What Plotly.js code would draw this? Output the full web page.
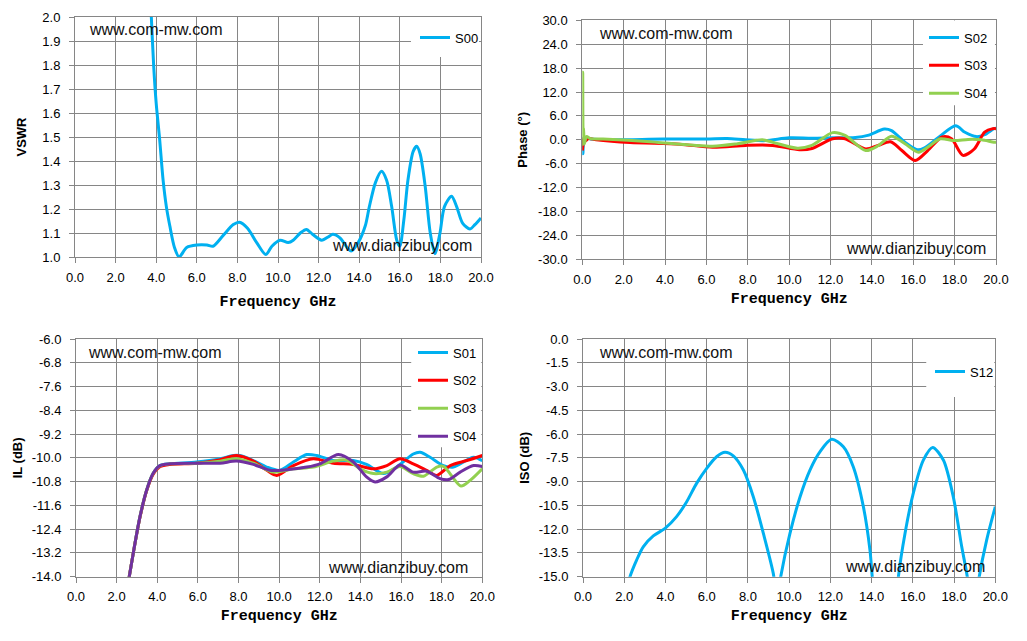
<!DOCTYPE html>
<html>
<head>
<meta charset="utf-8">
<script src="https://cdn.plot.ly/plotly-3.0.1.min.js"></script>
<style>
  body { margin: 0; background: #fff; }
  #chart { width: 1027px; height: 641px; }
</style>
</head>
<body>
<div id="chart"></div>
<script>
// tick values
const freqTicks = [0, 2, 4, 6, 8, 10, 12, 14, 16, 18, 20];
const vswrTicks = [1.0, 1.1, 1.2, 1.3, 1.4, 1.5, 1.6, 1.7, 1.8, 1.9, 2.0];
const phaseTicks = [-30, -24, -18, -12, -6, 0, 6, 12, 18, 24, 30];
const ilTicks = [-14, -13.2, -12.4, -11.6, -10.8, -10, -9.2, -8.4, -7.6, -6.8, -6];
const isoTicks = [-15, -13.5, -12, -10.5, -9, -7.5, -6, -4.5, -3, -1.5, 0];

// VSWR
const vswrFreq = [3.6, 3.76, 3.88, 4.0, 4.17, 4.34, 4.5, 4.67, 4.9, 5.13, 5.5, 6.0, 6.5, 6.8, 7.3, 7.8, 8.1, 8.5, 8.95, 9.4, 9.7, 10.1, 10.5, 10.75, 11.1, 11.4, 11.7, 12.15, 12.5, 12.7, 13.05, 13.4, 13.6, 13.95, 14.3, 14.5, 14.8, 15.1, 15.35, 15.6, 15.85, 16.0, 16.2, 16.4, 16.66, 16.83, 17.0, 17.25, 17.5, 17.73, 17.98, 18.2, 18.55, 18.8, 19.1, 19.46, 19.7, 20.0];
const vswrS00 = [2.3, 2.0, 1.79, 1.64, 1.49, 1.32, 1.21, 1.13, 1.04, 1.0, 1.04, 1.05, 1.05, 1.045, 1.09, 1.135, 1.145, 1.12, 1.06, 1.01, 1.045, 1.07, 1.06, 1.07, 1.1, 1.115, 1.095, 1.07, 1.085, 1.095, 1.08, 1.04, 1.025, 1.06, 1.13, 1.21, 1.31, 1.357, 1.32, 1.21, 1.07, 1.045, 1.155, 1.32, 1.44, 1.461, 1.43, 1.295, 1.1, 1.014, 1.1, 1.21, 1.253, 1.21, 1.14, 1.117, 1.135, 1.163];

// Phase
const phFreqS02 = [0, 0.03, 0.06, 0.1, 0.2, 0.4, 1.5, 3.9, 6.0, 7.0, 7.9, 8.85, 10.0, 11.1, 12.1, 13.2, 13.8, 14.6, 14.95, 15.6, 16.2, 16.55, 17.2, 18.05, 18.5, 19.05, 19.45, 19.9, 20.0];
const phaseS02 = [-1.0, -3.5, 0.5, -0.5, 0.5, 0.2, 0.0, 0.2, 0.2, 0.3, 0.0, -0.2, 0.5, 0.4, 0.5, 0.6, 1.1, 2.7, 2.3, -0.6, -2.5, -2.0, 0.5, 3.5, 1.9, 0.8, 1.3, 2.8, 2.9];
const phFreqS03 = [0, 0.03, 0.08, 0.15, 0.3, 0.67, 2.3, 4.7, 6.3, 7.9, 9.2, 10.5, 11.1, 12.1, 12.7, 13.7, 14.3, 14.9, 15.45, 16.1, 16.7, 17.4, 17.85, 18.4, 18.95, 19.45, 19.85, 20.0];
const phaseS03 = [-2.7, -1.5, 0.5, -0.3, 0.3, 0.0, -0.7, -1.1, -1.85, -1.4, -1.4, -2.5, -2.2, 0.25, 0.25, -2.3, -1.4, -0.5, -2.7, -5.2, -2.7, 0.7, 0.25, -3.9, -2.3, 1.9, 2.8, 2.8];
const phFreqS04 = [0, 0.02, 0.04, 0.06, 0.1, 0.2, 0.4, 1.0, 3.1, 6.3, 7.5, 8.7, 9.2, 10.4, 11.1, 12.1, 12.7, 13.7, 14.3, 14.95, 15.6, 16.25, 16.8, 17.3, 18.0, 18.65, 19.3, 19.9, 20.0];
const phaseS04 = [-1.5, 17.0, 2.0, 3.0, -1.0, 0.8, 0.3, 0.2, -0.4, -1.6, -1.0, 0.0, -0.6, -2.1, -1.4, 1.8, 1.1, -2.7, -1.5, 0.9, -1.0, -3.1, -1.5, 0.25, -0.2, 0.1, 0.0, -0.6, -0.6];

// Insertion loss
const ilFreqS01 = [2.4, 2.62, 2.82, 3.15, 3.48, 3.8, 4.13, 4.62, 5.94, 7.09, 7.74, 8.07, 8.73, 9.39, 10.04, 10.7, 11.36, 11.85, 12.67, 13.65, 14.3, 15.13, 15.79, 16.6, 16.94, 17.43, 18.09, 18.58, 19.57, 20.0];
const ilS01 = [-14.8, -14.0, -13.2, -11.98, -11.08, -10.52, -10.26, -10.2, -10.14, -10.03, -9.92, -9.92, -10.09, -10.31, -10.42, -10.14, -9.89, -9.92, -10.09, -10.09, -10.22, -10.53, -10.31, -9.87, -9.81, -9.98, -10.26, -10.31, -9.98, -10.1];
const ilFreqS02 = [2.4, 2.62, 2.82, 3.15, 3.48, 3.8, 4.13, 4.62, 5.94, 6.92, 7.9, 8.73, 9.39, 9.88, 10.7, 11.68, 12.67, 13.65, 14.64, 15.3, 15.95, 16.6, 17.26, 17.76, 18.42, 19.24, 20.0];
const ilS02 = [-14.8, -14.0, -13.2, -12.0, -11.1, -10.55, -10.3, -10.22, -10.18, -10.09, -9.92, -10.11, -10.42, -10.59, -10.26, -10.03, -10.18, -10.22, -10.37, -10.26, -10.03, -10.2, -10.42, -10.59, -10.26, -10.09, -9.92];
const ilFreqS03 = [2.4, 2.62, 2.82, 3.15, 3.48, 3.8, 4.13, 4.62, 5.94, 7.09, 7.9, 8.73, 9.71, 10.7, 11.68, 12.67, 13.33, 13.98, 14.64, 15.3, 15.95, 16.6, 17.1, 17.76, 18.09, 18.95, 19.4, 20.0];
const ilS03 = [-14.8, -14.0, -13.2, -11.98, -11.08, -10.52, -10.27, -10.2, -10.18, -10.11, -10.03, -10.18, -10.48, -10.37, -10.31, -10.11, -10.07, -10.37, -10.53, -10.48, -10.29, -10.53, -10.62, -10.31, -10.29, -10.95, -10.76, -10.37];
const ilFreqS04 = [2.4, 2.62, 2.82, 3.15, 3.48, 3.8, 4.13, 4.62, 5.94, 7.09, 7.9, 8.73, 9.55, 10.37, 11.36, 12.01, 12.92, 13.65, 14.3, 14.72, 15.3, 15.95, 16.6, 17.26, 17.92, 18.34, 18.91, 19.57, 20.0];
const ilS04 = [-14.8, -14.0, -13.2, -11.98, -11.08, -10.52, -10.26, -10.2, -10.18, -10.18, -10.11, -10.22, -10.42, -10.4, -10.31, -10.2, -9.89, -10.14, -10.64, -10.81, -10.64, -10.24, -10.48, -10.45, -10.7, -10.73, -10.48, -10.26, -10.29];

// Isolation
const isoFreq = [2.0, 2.28, 2.6, 2.93, 3.41, 3.98, 4.54, 5.03, 5.51, 6.0, 6.48, 6.89, 7.29, 7.78, 8.26, 8.75, 9.23, 9.42, 9.59, 10.04, 10.53, 11.01, 11.5, 12.06, 12.63, 13.11, 13.6, 13.92, 14.03, 14.7, 15.3, 15.62, 16.02, 16.51, 16.96, 17.48, 17.96, 18.37, 18.64, 18.9, 19.22, 19.58, 20.0];
const isoS12 = [-16.5, -15, -13.95, -13.1, -12.43, -11.95, -11.21, -10.27, -9.11, -8.16, -7.43, -7.15, -7.38, -8.27, -9.95, -12.27, -14.79, -16.5, -15, -12.27, -9.95, -8.27, -7.11, -6.33, -6.8, -8.06, -10.58, -13.32, -15, -25, -15, -12.27, -9.74, -7.64, -6.84, -7.64, -9.95, -13.1, -15, -18, -15, -12.69, -10.58];

const BLUE = '#00B0F0', RED = '#FF0000', GREEN = '#92D050', PURPLE = '#7030A0';
const GRID = '#868686';
const W = 1027, H = 641;

function line(x, y, name, color, xa, ya, leg) {
  return {
    x: x, y: y, name: name, mode: 'lines', type: 'scatter',
    xaxis: xa, yaxis: ya, legend: leg, legendgroup: name + leg,
    line: {color: color, width: 3, shape: 'spline', smoothing: 0.8}
  };
}

const data = [
  line(vswrFreq, vswrS00, 'S00', BLUE, 'x', 'y', 'legend'),
  line(phFreqS02, phaseS02, 'S02', BLUE, 'x2', 'y2', 'legend2'),
  line(phFreqS03, phaseS03, 'S03', RED, 'x2', 'y2', 'legend2'),
  line(phFreqS04, phaseS04, 'S04', GREEN, 'x2', 'y2', 'legend2'),
  line(ilFreqS01, ilS01, 'S01', BLUE, 'x3', 'y3', 'legend3'),
  line(ilFreqS02, ilS02, 'S02', RED, 'x3', 'y3', 'legend3'),
  line(ilFreqS03, ilS03, 'S03', GREEN, 'x3', 'y3', 'legend3'),
  line(ilFreqS04, ilS04, 'S04', PURPLE, 'x3', 'y3', 'legend3'),
  line(isoFreq, isoS12, 'S12', BLUE, 'x4', 'y4', 'legend4')
];

const tickFont = {family: 'Liberation Sans', size: 13, color: '#000'};

//axis builders, domains given in pixels
function xAxis(left, right, anchor, standoff) {
  return {
    domain: [left / W, right / W], anchor: anchor, range: [0, 20],
    tickvals: freqTicks, ticktext: freqTicks.map(v => v.toFixed(1)),
    showgrid: true, gridcolor: GRID, gridwidth: 1, zeroline: false,
    showline: true, linecolor: GRID, linewidth: 1, mirror: true,
    ticks: 'outside', ticklen: 5, tickcolor: GRID, tickfont: tickFont, ticklabelstandoff: 3,
    title: {text: 'Frequency GHz', standoff: standoff,
      font: {family: 'Liberation Mono', size: 15, weight: 'bold', color: '#000'}}
  };
}
function yAxis(top, bottom, anchor, ticks, title, standoff) {
  return {
    domain: [1 - bottom / H, 1 - top / H], anchor: anchor,
    range: [ticks[0], ticks[ticks.length - 1]],
    tickvals: ticks, ticktext: ticks.map(v => v.toFixed(1)),
    showgrid: true, gridcolor: GRID, gridwidth: 1, zeroline: false,
    showline: true, linecolor: GRID, linewidth: 1, mirror: true,
    ticks: 'outside', ticklen: 5, tickcolor: GRID, tickfont: tickFont, ticklabelstandoff: 6,
    title: {text: title, standoff: standoff,
      font: {family: 'Liberation Sans', size: 13, weight: 'bold', color: '#000'}}
  };
}
function legendAt(leftPx, topPx) {
  return {
    x: leftPx / W, y: 1 - topPx / H, xanchor: 'left', yanchor: 'top',
    bgcolor: 'rgba(0,0,0,0)', borderwidth: 0, itemwidth: 30,
    traceorder: 'grouped', tracegroupgap: 8,
    font: {family: 'Liberation Sans', size: 13, color: '#000'}
  };
}
function mark(text, x, y, xa, ya, anchor) {
  return {text: text, x: x, y: y, xref: xa, yref: ya, showarrow: false,
    xanchor: anchor, yanchor: 'middle',
    font: {family: 'Liberation Sans', size: 16, color: '#111'}};
}
function box(x0, x1, y0, y1, xa, ya) {
  return {type: 'rect', xref: xa, yref: ya, x0: x0, x1: x1, y0: y0, y1: y1,
    fillcolor: '#fff', line: {width: 0}, layer: 'between'};
}

const layout = {
  width: W, height: H,
  margin: {l: 0, r: 0, t: 0, b: 0},
  paper_bgcolor: '#fff', plot_bgcolor: '#fff',
  showlegend: true,
  xaxis: xAxis(75, 481, 'y', 11),
  yaxis: yAxis(17, 257, 'x', vswrTicks, 'VSWR', 12),
  xaxis2: xAxis(582.3, 996, 'y2', 6),
  yaxis2: yAxis(20.3, 259.3, 'x2', phaseTicks, 'Phase (°)', 7),
  xaxis3: xAxis(76, 482.3, 'y3', 6),
  yaxis3: yAxis(339, 576.7, 'x3', ilTicks, 'IL (dB)', 6),
  xaxis4: xAxis(583, 995.3, 'y4', 6),
  yaxis4: yAxis(339, 576.7, 'x4', isoTicks, 'ISO (dB)', 6),
  legend: legendAt(415, 22.5),
  legend2: legendAt(924, 22.5),
  legend3: legendAt(413, 337.5),
  legend4: legendAt(930, 356.5),
  shapes: [
    box(16.55, 19.9, 1.833, 2.0, 'x', 'y'),
    box(16.47, 19.95, 8.7, 30, 'x2', 'y2'),
    box(16.5, 19.95, -9.64, -6, 'x3', 'y3'),
    box(16.65, 19.95, -3.66, 0, 'x4', 'y4')
  ],
  annotations: [
    mark('www.com-mw.com', 0.59, 1.946, 'x', 'y', 'left'),
    mark('www.dianzibuy.com', 19.66, 1.046, 'x', 'y', 'right'),
    mark('www.com-mw.com', 0.71, 26.8, 'x2', 'y2', 'left'),
    mark('www.dianzibuy.com', 19.62, -27.2, 'x2', 'y2', 'right'),
    mark('www.com-mw.com', 0.49, -6.47, 'x3', 'y3', 'left'),
    mark('www.dianzibuy.com', 19.4, -13.68, 'x3', 'y3', 'right'),
    mark('www.com-mw.com', 0.68, -0.88, 'x4', 'y4', 'left'),
    mark('www.dianzibuy.com', 19.6, -14.38, 'x4', 'y4', 'right')
  ]
};

Plotly.newPlot('chart', data, layout, {staticPlot: true});
</script>
</body>
</html>
